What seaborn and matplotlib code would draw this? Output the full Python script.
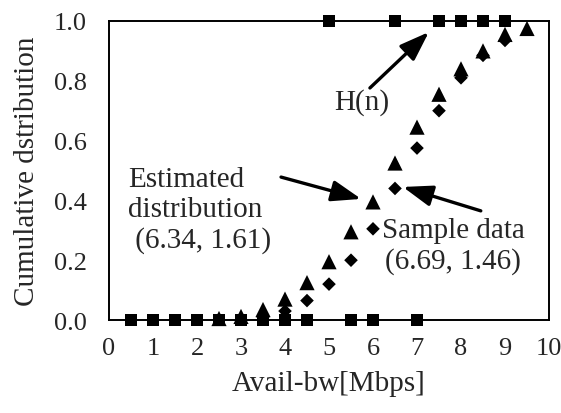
import seaborn as sns
import matplotlib.pyplot as plt
import pandas as pd

# H(n) step points
hn_x = [0.5, 1.0, 1.5, 2.0, 2.5, 3.0, 3.5, 4.0, 4.5, 5.0, 5.5, 6.0, 6.5, 7.0, 7.5, 8.0, 8.5, 9.0]
hn_y = [0, 0, 0, 0, 0, 0, 0, 0, 0, 1, 0, 0, 1, 0, 1, 1, 1, 1]

# estimated distribution (6.34, 1.61)
est_x = [2.5, 3.0, 3.5, 4.0, 4.5, 5.0, 5.5, 6.0, 6.5, 7.0, 7.5, 8.0, 8.5, 9.0, 9.5]
est_y = [0.005, 0.012, 0.035, 0.07, 0.125, 0.195, 0.295, 0.395, 0.525, 0.645, 0.755, 0.84, 0.9, 0.955, 0.975]

# sample data (6.69, 1.46)
smp_x = [3.5, 4.0, 4.5, 5.0, 5.5, 6.0, 6.5, 7.0, 7.5, 8.0, 8.5, 9.0]
smp_y = [0.01, 0.03, 0.065, 0.12, 0.2, 0.305, 0.44, 0.575, 0.7, 0.81, 0.885, 0.935]

x_ticks = list(range(0, 11))
y_ticks = [0.0, 0.2, 0.4, 0.6, 0.8, 1.0]

sns.set_style("white")
plt.rcParams['font.family'] = ['Liberation Serif', 'DejaVu Serif']

fig = plt.figure(figsize=(5.61, 4.14), dpi=100)
ax = fig.add_axes([0.1943, 0.2246, 0.7843, 0.7223])

est = pd.DataFrame({"x": est_x, "y": est_y})
smp = pd.DataFrame({"x": smp_x, "y": smp_y})
hn = pd.DataFrame({"x": hn_x, "y": hn_y})

sns.scatterplot(data=est, x="x", y="y", marker="^", s=120, color="black",
                edgecolor="none", ax=ax, clip_on=False, zorder=3)
sns.scatterplot(data=smp, x="x", y="y", marker="D", s=48, color="black",
                edgecolor="none", ax=ax, clip_on=False, zorder=4)
sns.scatterplot(data=hn, x="x", y="y", marker="s", s=78, color="black",
                edgecolor="none", ax=ax, clip_on=False, zorder=5)

ax.set_xlim(0, 10)
ax.set_ylim(0, 1)
ax.set_xticks(x_ticks)
ax.set_yticks(y_ticks)
ax.set_yticklabels([f"{v:.1f}" for v in y_ticks])
ax.tick_params(length=0, labelsize=19)
ax.tick_params(axis="y", pad=16)
ax.tick_params(axis="x", pad=12)
for sp in ax.spines.values():
    sp.set_color("black")
    sp.set_linewidth(1.4)

ax.set_xlabel("Avail-bw[Mbps]", fontsize=21, labelpad=8)
ax.set_ylabel("Cumulative dstribution", fontsize=21, labelpad=10)

arrow = dict(arrowstyle="-|>,head_length=0.9,head_width=0.32", lw=2.4,
             color="black", mutation_scale=20, shrinkA=0, shrinkB=0)

ax.text(5.75, 0.73, "H(n)", fontsize=21, ha="center", va="center")
ax.annotate("", xy=(7.27, 0.963), xytext=(5.93, 0.776), arrowprops=arrow)

ax.text(0.43, 0.37, "Estimated\ndistribution\n (6.34, 1.61)", fontsize=21,
        ha="left", va="center", linespacing=1.2)
ax.annotate("", xy=(5.73, 0.405), xytext=(3.91, 0.478), arrowprops=arrow)

ax.text(7.82, 0.25, "Sample data\n(6.69, 1.46)", fontsize=21,
        ha="center", va="center", linespacing=1.2)
ax.annotate("", xy=(6.68, 0.445), xytext=(8.45, 0.365), arrowprops=arrow)

fig.savefig("out.png", dpi=100)
